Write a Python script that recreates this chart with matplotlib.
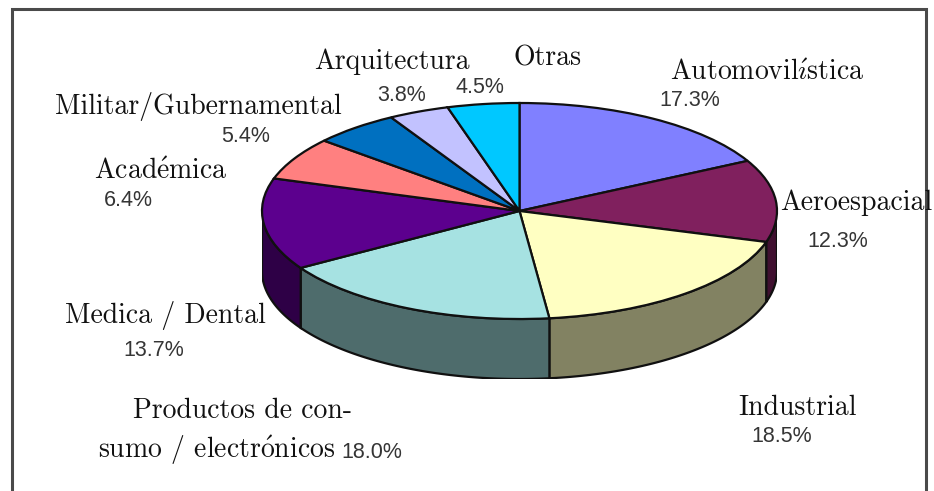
import numpy as np
import matplotlib
matplotlib.use('Agg')
import matplotlib.pyplot as plt
from matplotlib.patches import Polygon

plt.rcParams['mathtext.fontset'] = 'cm'

# ---- data (clockwise from 12 o'clock) ----
sectors = ['Automovilística', 'Aeroespacial', 'Industrial',
           'Productos de consumo / electrónicos', 'Medica / Dental',
           'Académica', 'Militar/Gubernamental', 'Arquitectura', 'Otras']
shares = [17.3, 12.3, 18.5, 18.0, 13.7, 6.4, 5.4, 3.8, 4.5]
top_colors = ['#8080FF', '#80205E', '#FFFFC2', '#A6E2E2', '#5C008E',
              '#FF8080', '#0070C0', '#C2C2FF', '#00C8FF']
side_colors = ['#5050A0', '#401030', '#828262', '#4E6C6C', '#2E0046',
               '#904848', '#004070', '#7070A0', '#007090']

# label text (serif) and percentage positions in pixel coords
name_text = [('Automovil$\\acute{\\imath}$stica', 767, 72),
             ('Aeroespacial', 856, 203),
             ('Industrial', 797, 408),
             ('Productos de con-', 243, 411),
             ('Medica / Dental', 165, 316),
             ('Acad$\\acute{\\mathrm{e}}$mica', 161, 172),
             ('Militar/Gubernamental', 198, 106),
             ('Arquitectura', 392, 62),
             ('Otras', 548, 58)]
pct_pos = [(690, 100), (838, 241), (782, 437), (372, 453), (154, 351),
           (128, 200), (246, 137), (402, 95), (480, 87)]

W, H = 934, 491
fig = plt.figure(figsize=(W / 100, H / 100), dpi=100, facecolor='white')

# frame (left, top, right)
bg = fig.add_axes([0, 0, 1, 1])
bg.set_xlim(0, W); bg.set_ylim(H, 0); bg.axis('off')
bg.plot([12, 12, 926, 926], [H + 5, 9, 9, H + 5], color='#4a4a4a', lw=2.2,
        solid_joinstyle='miter')

# ---- 3D pie ----
cx, cy, a, b, depth = 519.5, 211, 257.5, 108, 60
d = depth / b
ax = fig.add_axes([(cx - a) / W, (H - (cy + b + depth)) / H,
                   2 * a / W, (2 * b + depth) / H])
wedges, _ = ax.pie(shares, colors=top_colors, startangle=90, counterclock=False,
                   radius=1, wedgeprops=dict(edgecolor='#101010', linewidth=1.6))
ax.set_aspect('auto')
ax.set_xlim(-1, 1)
ax.set_ylim(-1 - d, 1)

# side walls for the front half
for w, sc in zip(wedges, side_colors):
    t1, t2 = w.theta1 % 360, w.theta2 % 360
    if t2 <= t1:
        t2 += 360
    for lo, hi in [(180, 360), (540, 720)]:
        s, e = max(t1, lo), min(t2, hi)
        if e <= s:
            continue
        th = np.radians(np.linspace(s, e, 80))
        xs, ys = np.cos(th), np.sin(th)
        pts = np.concatenate([np.column_stack([xs, ys]),
                              np.column_stack([xs[::-1], ys[::-1] - d])])
        ax.add_patch(Polygon(pts, closed=True, facecolor=sc,
                             edgecolor='#101010', lw=1.6, zorder=0.5))

# ---- labels ----
for (txt, x, y) in name_text:
    bg.text(x, y, txt, family='cmr10', fontsize=20, ha='center', va='center',
            color='#111111')
bg.text(217, 450, 'sumo / electr$\\acute{\\mathrm{o}}$nicos', family='cmr10',
        fontsize=20, ha='center', va='center', color='#111111')
for p, (x, y) in zip(shares, pct_pos):
    bg.text(x, y, f'{p:.1f}%', family='Liberation Sans', fontsize=15.5,
            ha='center', va='center', color='#353535')

fig.savefig('out.png', dpi=100, facecolor='white')
